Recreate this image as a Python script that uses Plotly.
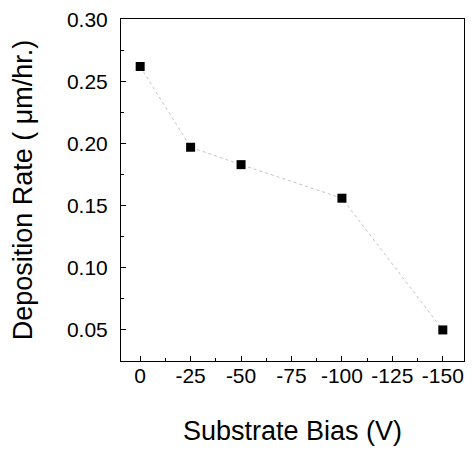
import plotly.graph_objects as go

bias = [0, -25, -50, -100, -150]
rate = [0.262, 0.197, 0.183, 0.156, 0.050]
x_ticks = [0, -25, -50, -75, -100, -125, -150]
y_ticks = [0.05, 0.10, 0.15, 0.20, 0.25, 0.30]

fig = go.Figure()
fig.add_trace(go.Scatter(
    x=bias, y=rate, mode="lines+markers",
    line=dict(color="#c4c4c4", width=1, dash="dot"),
    marker=dict(symbol="square", size=9, color="black"),
    showlegend=False,
))

font = "Liberation Sans, Arial, sans-serif"
# page body has an 8px default margin, so the figure is 8px smaller
fig.update_layout(
    width=468, height=442,
    margin=dict(l=113, r=12, t=11, b=89),
    paper_bgcolor="white", plot_bgcolor="white",
    font=dict(family=font, color="black", size=21),
)
fig.update_xaxes(
    range=[9.5, -160.5], tickvals=x_ticks, ticktext=[str(v) for v in x_ticks],
    ticks="inside", ticklen=5, tickwidth=1, tickcolor="black",
    minor=dict(ticks="inside", ticklen=3, tickcolor="black", dtick=12.5, tick0=0),
    showline=True, linecolor="black", linewidth=1, mirror=True,
    showgrid=False, zeroline=False, automargin=False,
    tickfont=dict(size=21), ticklabelstandoff=-4, ticklabeloverflow="allow",
    title=dict(text="Substrate Bias (V)", font=dict(size=27), standoff=34),
)
fig.update_yaxes(
    range=[0.025, 0.3002], tickvals=y_ticks, ticktext=[f"{v:.2f}" for v in y_ticks],
    ticks="inside", ticklen=5, tickwidth=1, tickcolor="black",
    minor=dict(ticks="inside", ticklen=3, tickcolor="black", dtick=0.025, tick0=0),
    showline=True, linecolor="black", linewidth=1, mirror=True,
    showgrid=False, zeroline=False, automargin=False,
    tickfont=dict(size=21), ticklabelstandoff=8, ticklabeloverflow="allow",
    title=dict(text="Deposition Rate ( μm/hr.)", font=dict(size=27), standoff=28),
)
fig.write_html("out.html")
